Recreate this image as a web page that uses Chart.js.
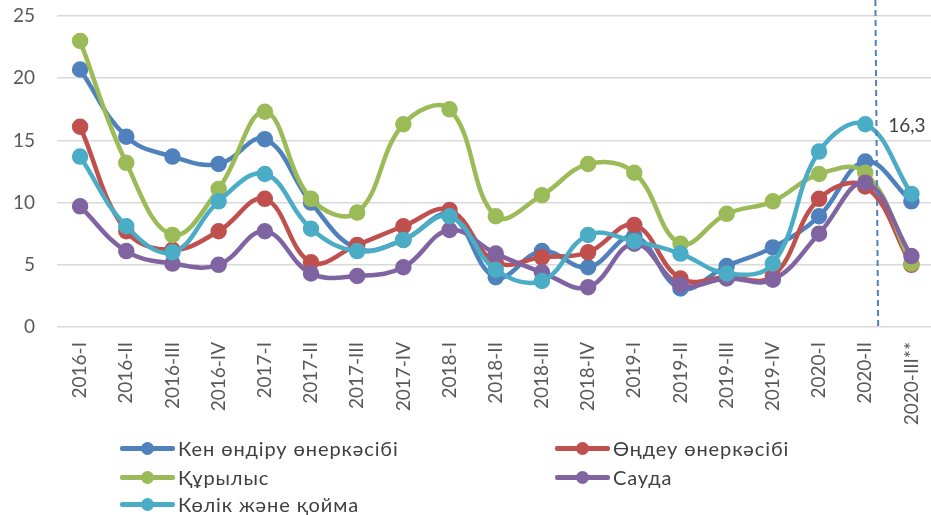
<!DOCTYPE html>
<html>
<head>
<meta charset="utf-8">
<script src="https://cdn.jsdelivr.net/npm/chart.js@4.4.1/dist/chart.umd.min.js"></script>
<style>
  html, body { margin: 0; padding: 0; background: #fff; overflow: hidden; }
  #wrap { position: relative; width: 931px; height: 515px; overflow: hidden; }
  #chart { position: absolute; left: 0; top: 0; }
  .leg { position: absolute; display: flex; align-items: center; font-family: Lato, sans-serif; font-size: 20px; letter-spacing: 0.9px; color: #404040; white-space: nowrap; }
  .sym { position: relative; width: 55px; height: 14px; margin-right: 3px; }
  .sym .ln { position: absolute; left: 0; right: 0; top: 5px; height: 5px; border-radius: 2px; }
  .sym .dot { position: absolute; left: 21px; top: 1px; width: 13px; height: 13px; border-radius: 50%; }
</style>
</head>
<body>
<div id="wrap">
  <canvas id="chart" width="945" height="515"></canvas>
  <div id="legend"></div>
</div>
<script>
// --- Dane ---
const labels = ['2016-I', '2016-II', '2016-III', '2016-IV', '2017-I', '2017-II', '2017-III', '2017-IV',
  '2018-I', '2018-II', '2018-III', '2018-IV', '2019-I', '2019-II', '2019-III', '2019-IV',
  '2020-I', '2020-II', '2020-III**'];

const kenOndiru = [20.7, 15.3, 13.7, 13.1, 15.1, 10.0, 6.3, 7.0, 9.0, 4.0, 6.1, 4.8, 7.3, 3.1, 4.9, 6.4, 8.9, 13.3, 10.1];
const ondeu     = [16.1, 7.7, 6.2, 7.7, 10.3, 5.2, 6.6, 8.1, 9.4, 5.2, 5.6, 6.0, 8.2, 3.9, 4.0, 4.1, 10.3, 11.3, 5.0];
const qurylys   = [23.0, 13.2, 7.4, 11.1, 17.3, 10.3, 9.2, 16.3, 17.5, 8.9, 10.6, 13.1, 12.4, 6.7, 9.1, 10.1, 12.3, 12.4, 5.1];
const sauda     = [9.7, 6.1, 5.1, 5.0, 7.7, 4.3, 4.1, 4.8, 7.8, 5.9, 4.4, 3.2, 6.7, 3.4, 3.9, 3.8, 7.5, 11.6, 5.7];
const kolik     = [13.7, 8.1, 6.0, 10.1, 12.3, 7.9, 6.1, 7.0, 8.9, 4.6, 3.7, 7.4, 6.9, 5.9, 4.3, 5.1, 14.1, 16.3, 10.7];

const seriesNames = ['Кен өндіру өнеркәсібі', 'Өңдеу өнеркәсібі', 'Құрылыс', 'Сауда', 'Көлік және қойма'];
const seriesColors = ['#4f81bd', '#c0504d', '#9bbb59', '#8064a2', '#4bacc6'];
const seriesData = [kenOndiru, ondeu, qurylys, sauda, kolik];

const yTicks = [0, 5, 10, 15, 20, 25];
const labelText = '16,3';     // etykieta punktu 2020-II (Көлік)
const dividerAt = [17.22, 17.28]; // linia przerywana: góra, dół

// --- Pluginy ---
const extras = {
  id: 'extras',
  afterDatasetsDraw(chart) {
    const { ctx, chartArea, scales } = chart;
    // linia przerywana
    ctx.save();
    ctx.strokeStyle = '#4f81bd';
    ctx.lineWidth = 2;
    ctx.setLineDash([6, 4]);
    ctx.beginPath();
    ctx.moveTo(scales.x.getPixelForValue(dividerAt[0]), 0);
    ctx.lineTo(scales.x.getPixelForValue(dividerAt[1]), chartArea.bottom);
    ctx.stroke();
    ctx.restore();

    // etykieta 16,3
    const pt = chart.getDatasetMeta(4).data[17];
    ctx.save();
    ctx.font = '19px Lato';
    ctx.fillStyle = '#404040';
    ctx.textAlign = 'left';
    ctx.textBaseline = 'middle';
    ctx.fillText(labelText, pt.x + 23, pt.y + 2);
    ctx.restore();
  }
};

const datasets = seriesData.map((d, i) => ({
  label: seriesNames[i],
  data: d,
  borderColor: seriesColors[i],
  backgroundColor: seriesColors[i],
  borderWidth: 4.5,
  pointRadius: 6,
  pointHoverRadius: 6,
  tension: 0.4,
  order: 5 - i
}));

new Chart(document.getElementById('chart'), {
  type: 'line',
  data: { labels: labels, datasets: datasets },
  options: {
    responsive: false,
    animation: false,
    layout: { padding: { top: 16, right: 3, left: 0, bottom: 0 } },
    plugins: { legend: { display: false }, tooltip: { enabled: false } },
    scales: {
      x: {
        offset: true,
        grid: { display: false, drawTicks: false },
        border: { display: false },
        afterFit: s => { s.height = 188; s.paddingLeft = 0; s.paddingRight = 0; },
        ticks: {
          autoSkip: false,
          maxRotation: 90,
          minRotation: 90,
          padding: 15,
          color: '#595959',
          font: { family: 'Lato', size: 19 }
        }
      },
      y: {
        min: 0,
        max: 25,
        afterBuildTicks: s => { s.ticks = yTicks.map(v => ({ value: v })); },
        afterFit: s => { s.width = 57; s.paddingTop = 0; s.paddingBottom = 0; },
        grid: { color: '#d9d9d9', lineWidth: 1.5, drawTicks: false },
        border: { display: false },
        ticks: {
          padding: 22,
          color: '#595959',
          font: { family: 'Lato', size: 19 }
        }
      }
    }
  },
  plugins: [extras]
});

// --- Legenda ---
const legendPos = [[120, 449], [555, 449], [120, 478], [555, 478], [120, 505]];
const legend = document.getElementById('legend');
seriesNames.forEach((name, i) => {
  const el = document.createElement('div');
  el.className = 'leg';
  el.style.left = legendPos[i][0] + 'px';
  el.style.top = (legendPos[i][1] - 13) + 'px';
  el.innerHTML = `<span class="sym"><span class="ln" style="background:${seriesColors[i]}"></span>` +
    `<span class="dot" style="background:${seriesColors[i]}"></span></span><span>${name}</span>`;
  legend.appendChild(el);
});
</script>
</body>
</html>
